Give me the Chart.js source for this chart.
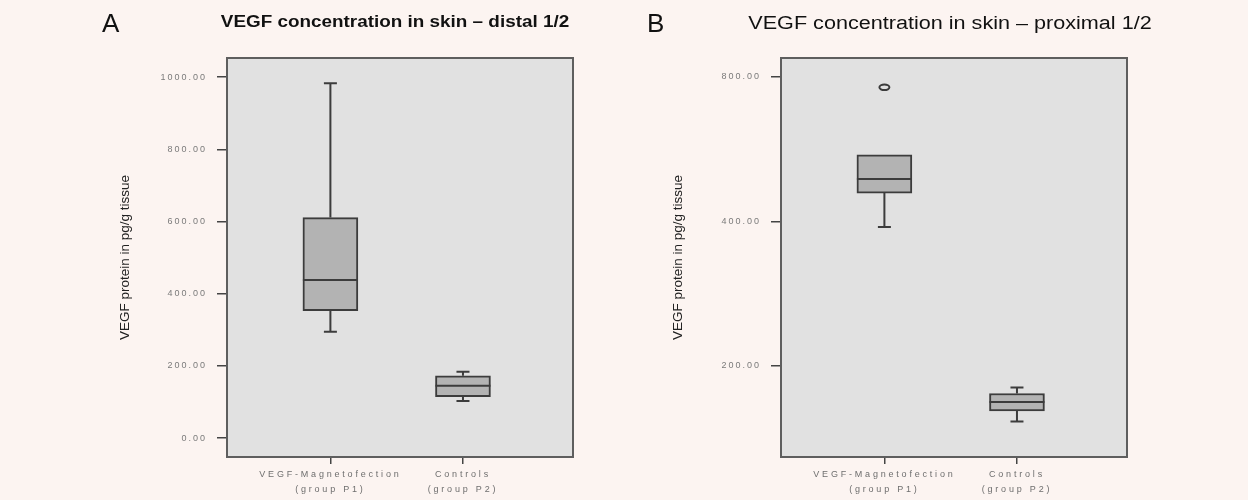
<!DOCTYPE html>
<html>
<head>
    <title>VEGF concentration in skin</title>
    <script src="https://cdn.jsdelivr.net/npm/chart.js"></script>
    <style>
        body { margin: 0; background: #fcf4f1; font-family: "Liberation Sans", Arial, sans-serif; }
        #page { position: relative; width: 1248px; height: 500px; overflow: hidden; }
        .panel { position: absolute; top: 0; width: 624px; height: 500px; }
        .letter { position: absolute; font-size: 26px; line-height: 26px; color: #111; }
        .title { position: absolute; width: 400px; text-align: center; color: #111; white-space: nowrap; }
    </style>
</head>
<body>
<div id="page">
    <div class="panel" style="left:0"><canvas id="distalChart" width="624" height="500"></canvas></div>
    <div class="panel" style="left:624px"><canvas id="proximalChart" width="624" height="500"></canvas></div>

    <div class="letter" style="left:102px; top:10px">A</div>
    <div class="title" style="left:195px; top:12px; font-size:16px; line-height:20px; font-weight:bold; transform:scaleX(1.18)">VEGF concentration in skin – distal 1/2</div>

    <div class="letter" style="left:647px; top:10px">B</div>
    <div class="title" style="left:750px; top:12px; font-size:18px; line-height:22px; transform:scaleX(1.2)">VEGF concentration in skin – proximal 1/2</div>
</div>

<script>
    // Grupos (eixo x)
    const groupLabels = [['VEGF-Magnetofection', '(group P1)'], ['Controls', '(group P2)']];
    const groupX = [1, 2];
    const yTitle = 'VEGF protein in pg/g tissue';

    // A - distal 1/2 (escala linear)
    const distalMin = [295, 103];
    const distalQ1 = [353, 115];
    const distalMedian = [438, 145];
    const distalQ3 = [611, 173];
    const distalMax = [983, 184];
    const distalOutliers = [[], []];
    const distalTicks = [0, 200, 400, 600, 800, 1000];

    // B - proximal 1/2 (escala log)
    const proximalMin = [389, 153];
    const proximalQ1 = [458, 161];
    const proximalMedian = [490, 168];
    const proximalQ3 = [550, 175];
    const proximalMax = [550, 180];
    const proximalOutliers = [[761], []];
    const proximalTicks = [200, 400, 800];

    const lineColor = '#3c3c3c';
    const tickFont = { family: 'Liberation Sans', size: 9, lineHeight: 1.65 };

    // espaçamento entre letras nos rótulos dos eixos
    function spaceLabels(scale, spacing) {
        if (scale._spaced) return;
        const draw = scale.drawLabels;
        scale.drawLabels = function (area) {
            this.ctx.letterSpacing = spacing;
            draw.call(this, area);
            this.ctx.letterSpacing = '0px';
        };
        scale._spaced = true;
    }

    // fundo, bigodes, medianas, outliers e moldura
    const boxPlotPlugin = {
        id: 'boxPlot',
        beforeDraw(chart) {
            const { ctx, chartArea: a } = chart;
            spaceLabels(chart.scales.x, '2.8px');
            spaceLabels(chart.scales.y, '2px');
            ctx.save();
            ctx.fillStyle = '#e1e1e1';
            ctx.fillRect(a.left, a.top, a.width, a.height);
            ctx.restore();
        },
        afterDatasetsDraw(chart, args, opts) {
            const { ctx, chartArea: a, scales: { x, y } } = chart;
            const s = opts.stats;
            const bars = chart.getDatasetMeta(0).data;
            ctx.save();
            ctx.strokeStyle = lineColor;
            ctx.lineWidth = 2;
            groupX.forEach((gx, i) => {
                const px = x.getPixelForValue(gx);
                const half = bars[i].width / 2;
                const cap = 6.5;
                const pMin = y.getPixelForValue(s.min[i]);
                const pQ1 = y.getPixelForValue(s.q1[i]);
                const pMed = y.getPixelForValue(s.median[i]);
                const pQ3 = y.getPixelForValue(s.q3[i]);
                const pMax = y.getPixelForValue(s.max[i]);
                ctx.beginPath();
                if (s.max[i] > s.q3[i]) {
                    ctx.moveTo(px, pQ3); ctx.lineTo(px, pMax);
                    ctx.moveTo(px - cap, pMax); ctx.lineTo(px + cap, pMax);
                }
                if (s.min[i] < s.q1[i]) {
                    ctx.moveTo(px, pQ1); ctx.lineTo(px, pMin);
                    ctx.moveTo(px - cap, pMin); ctx.lineTo(px + cap, pMin);
                }
                ctx.moveTo(px - half, pMed); ctx.lineTo(px + half, pMed);
                ctx.stroke();
                s.outliers[i].forEach(v => {
                    ctx.beginPath();
                    ctx.ellipse(px, y.getPixelForValue(v), 5, 2.8, 0, 0, Math.PI * 2);
                    ctx.stroke();
                });
            });
            ctx.strokeStyle = '#5e5e5e';
            ctx.strokeRect(a.left, a.top, a.width, a.height);
            ctx.restore();
        }
    };

    function makePanel(id, stats, yType, yMin, yMax, yTicks, padLeft, padRight, axisWidth) {
        const ctx = document.getElementById(id).getContext('2d');
        return new Chart(ctx, {
            type: 'bar',
            data: {
                datasets: [{
                    data: groupX.map((gx, i) => ({ x: gx, y: [stats.q1[i], stats.q3[i]] })),
                    backgroundColor: '#b3b3b3',
                    borderColor: lineColor,
                    borderWidth: 2,
                    borderSkipped: false,
                    barThickness: 55
                }]
            },
            options: {
                responsive: false,
                animation: false,
                layout: { padding: { left: padLeft, right: padRight, top: 58, bottom: 0 } },
                plugins: {
                    legend: { display: false },
                    tooltip: { enabled: false },
                    boxPlot: { stats: stats }
                },
                scales: {
                    x: {
                        type: 'linear',
                        min: 0.22,
                        max: 2.83,
                        offset: false,
                        afterBuildTicks: scale => { scale.ticks = groupX.map(v => ({ value: v })); },
                        afterFit: scale => { scale.height = 43; },
                        grid: { drawOnChartArea: false, offset: false, tickLength: 7, color: '#444', lineWidth: 1.5 },
                        border: { display: false },
                        ticks: {
                            autoSkip: false,
                            maxRotation: 0,
                            padding: 3,
                            color: '#6e6e6e',
                            font: tickFont,
                            callback: (v, i) => groupLabels[i]
                        }
                    },
                    y: {
                        type: yType,
                        min: yMin,
                        max: yMax,
                        afterBuildTicks: scale => { scale.ticks = yTicks.map(v => ({ value: v })); },
                        afterFit: scale => { scale.width = axisWidth; },
                        grid: { drawOnChartArea: false, tickLength: 10, color: '#444', lineWidth: 1.5 },
                        border: { display: false },
                        ticks: {
                            padding: 10,
                            color: '#7a7a7a',
                            font: tickFont,
                            callback: v => Number(v).toFixed(2)
                        },
                        title: {
                            display: true,
                            text: yTitle,
                            color: '#222',
                            font: { family: 'Liberation Sans', size: 13.5 },
                            padding: { top: 4, bottom: 0 }
                        }
                    }
                }
            },
            plugins: [boxPlotPlugin]
        });
    }

    makePanel('distalChart', {
        min: distalMin, q1: distalQ1, median: distalMedian, q3: distalQ3, max: distalMax, outliers: distalOutliers
    }, 'linear', -52, 1053, distalTicks, 113, 51, 114);

    makePanel('proximalChart', {
        min: proximalMin, q1: proximalQ1, median: proximalMedian, q3: proximalQ3, max: proximalMax, outliers: proximalOutliers
    }, 'logarithmic', 129, 876, proximalTicks, 42, 121, 115);
</script>
</body>
</html>
